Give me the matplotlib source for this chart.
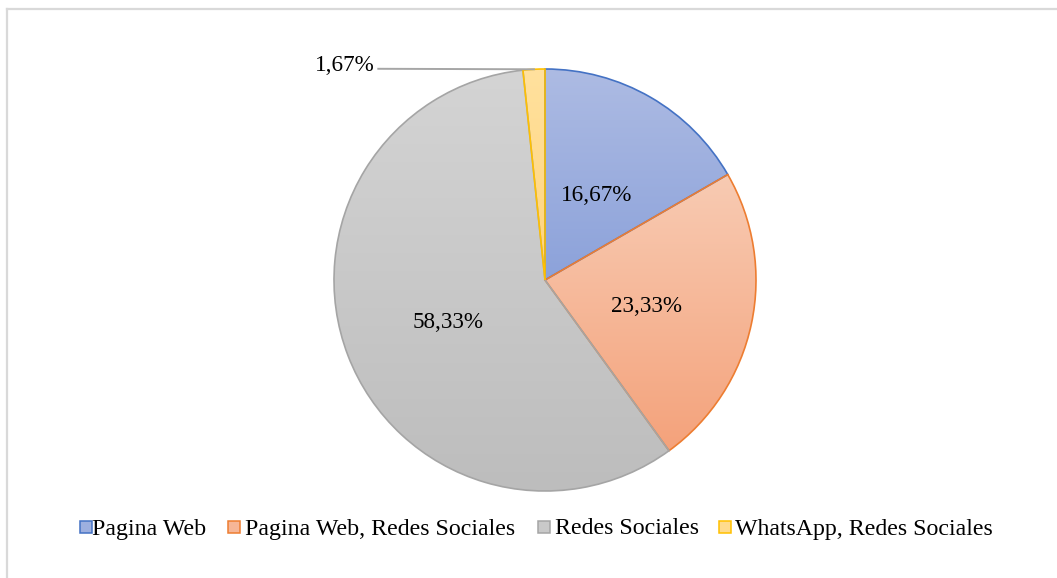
import numpy as np
import matplotlib
matplotlib.use("Agg")
import matplotlib.pyplot as plt
from matplotlib.colors import LinearSegmentedColormap, to_rgb
from matplotlib.patches import Rectangle
from matplotlib.lines import Line2D

# Data
categories = ["Pagina Web", "Pagina Web, Redes Sociales", "Redes Sociales", "WhatsApp, Redes Sociales"]
shares = [16.67, 23.33, 58.33, 1.67]
labels = ["16,67%", "23,33%", "58,33%", "1,67%"]

# Styling: edge colour, gradient top colour, gradient bottom colour
edge_colors = ["#4472c4", "#ed7d31", "#a5a5a5", "#ffc000"]
top_colors = ["#adbbe3", "#f8cbb3", "#d4d4d4", "#ffe19e"]
bottom_colors = ["#8ca2da", "#f4a27b", "#bdbdbd", "#ffd47c"]

plt.rcParams["font.family"] = ["Liberation Serif", "DejaVu Serif"]
FS_LABEL = 16.7
FS_LEGEND = 17.2

W, H = 1057, 578
fig = plt.figure(figsize=(W / 100, H / 100), dpi=100)

cx, cy, R = 545, 280, 211
ax = fig.add_axes([(cx - R) / W, (H - cy - R) / H, 2 * R / W, 2 * R / H])

wedges, _ = ax.pie(shares, startangle=90, counterclock=False, radius=1,
                   wedgeprops=dict(linewidth=1.2))

grad = np.linspace(0, 1, 256).reshape(-1, 1)
for w, ec, tc, bc in zip(wedges, edge_colors, top_colors, bottom_colors):
    w.set_facecolor("none")
    w.set_edgecolor(ec)
    w.set_zorder(3)
    ext = w.get_path().get_extents()
    cmap = LinearSegmentedColormap.from_list("g", [bc, tc])
    im = ax.imshow(grad, cmap=cmap, origin="lower", aspect="auto",
                   extent=(ext.x0, ext.x1, ext.y0, ext.y1), zorder=2,
                   interpolation="bilinear")
    im.set_clip_path(w)

ax.set_xlim(-1, 1)
ax.set_ylim(-1, 1)
ax.axis("off")

# Percentage labels inside the slices
angles = []
start = 90.0
for s in shares:
    span = 360.0 * s / sum(shares)
    angles.append(start - span / 2)
    start -= span

for i in range(3):
    a = np.deg2rad(angles[i])
    ax.text(0.49 * np.cos(a), 0.49 * np.sin(a) - 0.025, labels[i], ha="center",
            va="center", fontsize=FS_LABEL, color="#000000", zorder=5)

# Small slice label with a leader line
a = np.deg2rad(angles[3])
px, py = np.cos(a), np.sin(a)
ax.add_line(Line2D([-0.79, px], [1.001, py], color="#a6a6a6", lw=1.4,
                   clip_on=False, zorder=4))
ax.text(-0.805, 1.018, labels[3], ha="right", va="center", fontsize=FS_LABEL,
        color="#000000", clip_on=False)

# Legend row: square swatch followed by its label
swatch_x = [80, 228, 537.5, 718.5]
text_x = [92, 245, 555, 735]
swatch_size = 12
swatch_top = 520.5
text_baseline = 534.5
for sx, tx, name, tc, bc, ec in zip(swatch_x, text_x, categories, top_colors,
                                    bottom_colors, edge_colors):
    fill = (np.array(to_rgb(tc)) + np.array(to_rgb(bc))) / 2
    fig.add_artist(Rectangle((sx / W, 1 - (swatch_top + swatch_size) / H),
                             swatch_size / W, swatch_size / H, transform=fig.transFigure,
                             facecolor=fill, edgecolor=ec, linewidth=1.1))
    fig.text(tx / W, 1 - text_baseline / H, name,
             ha="left", va="baseline", fontsize=FS_LEGEND, color="#000000")

# Chart area border (left and top edges visible)
bx, by = 6.5 / W, 1 - 8.5 / H
fig.add_artist(Line2D([bx, bx], [by, 0], transform=fig.transFigure, color="#d9d9d9", lw=1.6))
fig.add_artist(Line2D([bx, 1], [by, by], transform=fig.transFigure, color="#d9d9d9", lw=1.6))

fig.savefig("out.png", dpi=100, facecolor="white")
